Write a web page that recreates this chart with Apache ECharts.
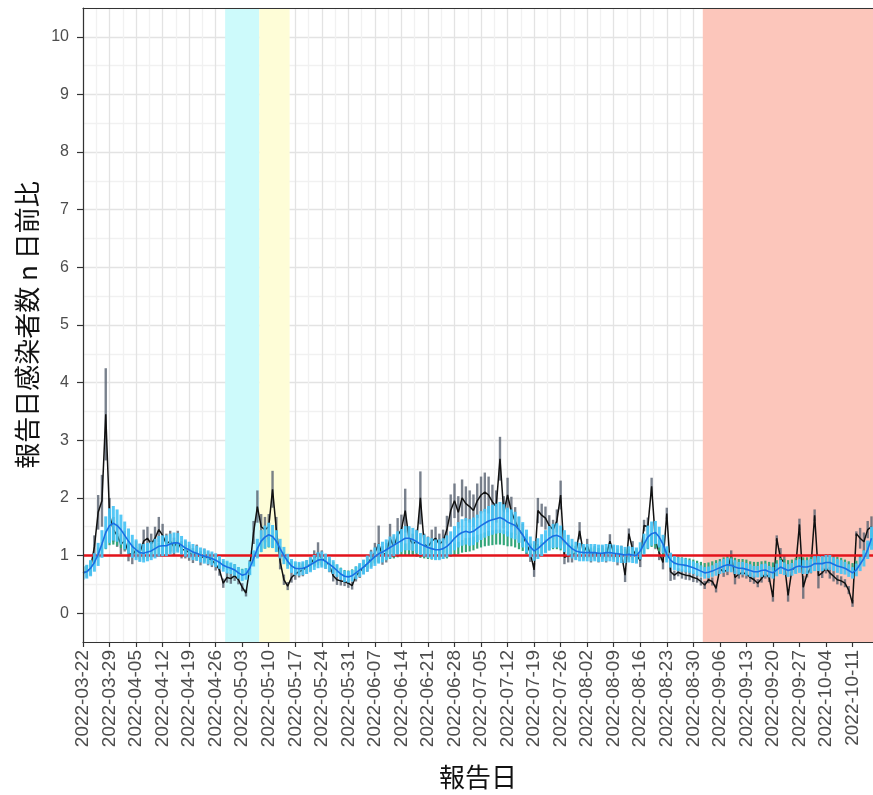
<!DOCTYPE html>
<html>
<head>
<meta charset="utf-8">
<script src="https://cdn.jsdelivr.net/npm/echarts@6/dist/echarts.min.js"></script>
<style>
html, body { margin: 0; padding: 0; background: #fff; }
#board { width: 873px; height: 795px; }
</style>
</head>
<body>
<div id="board"></div>
<script>
// day 0 = 2022-03-22, one value per day up to 2022-10-16
const startDate = '2022-03-22';

// 報告日感染者数 n 日前比 (black line)
const ratio = [
  0.70,0.72,0.78,1.15,1.75,1.95,3.45,
  1.70,1.45,1.35,1.20,1.25,1.05,1.00,
  1.10,1.05,1.25,1.30,1.20,1.30,1.45,
  1.35,1.20,1.25,1.15,1.25,1.10,1.10,
  1.05,1.00,1.05,0.95,1.00,0.95,0.92,
  0.85,0.75,0.52,0.62,0.60,0.65,0.58,
  0.45,0.35,0.80,1.40,1.85,1.50,1.45,
  1.50,2.15,1.45,0.90,0.58,0.47,0.62,
  0.68,0.72,0.75,0.80,0.85,0.95,1.05,
  0.95,0.90,0.83,0.65,0.58,0.56,0.55,
  0.52,0.48,0.65,0.72,0.80,0.85,0.95,
  1.05,1.20,1.00,1.05,1.30,1.15,1.35,
  1.45,1.78,1.30,1.20,1.25,2.00,1.20,
  1.15,1.25,1.30,1.20,1.25,1.45,1.78,
  1.95,1.75,2.00,1.90,1.85,1.78,1.95,
  2.05,2.10,2.05,1.93,1.85,2.68,1.75,
  2.05,1.76,1.60,1.45,1.35,1.20,1.05,
  0.75,1.78,1.70,1.65,1.52,1.45,1.60,
  2.05,0.97,1.00,1.00,1.05,1.43,1.05,
  1.17,1.00,1.05,1.00,1.05,1.00,1.25,
  1.05,0.95,1.05,0.66,1.38,1.10,1.00,
  0.92,1.52,1.50,2.20,1.26,1.05,0.88,
  1.73,0.72,0.66,0.71,0.68,0.66,0.65,
  0.62,0.60,0.55,0.49,0.58,0.55,0.43,
  0.77,0.72,0.75,1.00,0.62,0.68,0.70,
  0.68,0.62,0.58,0.52,0.60,0.68,0.62,
  0.28,1.30,0.95,0.88,0.31,0.75,0.80,
  1.54,0.45,0.68,0.78,1.70,0.65,0.70,
  0.78,0.70,0.64,0.58,0.56,0.52,0.40,
  0.17,1.38,1.30,1.24,1.45,1.50
];
// half width of the grey interval around ratio
const ratioCi = [
  0.10,0.10,0.12,0.20,0.30,0.45,0.80,
  0.30,0.22,0.20,0.18,0.18,0.15,0.15,
  0.15,0.15,0.20,0.20,0.18,0.20,0.22,
  0.20,0.18,0.18,0.16,0.18,0.15,0.15,
  0.14,0.13,0.14,0.12,0.12,0.12,0.12,
  0.11,0.10,0.08,0.09,0.09,0.09,0.08,
  0.07,0.06,0.12,0.20,0.28,0.22,0.22,
  0.22,0.32,0.22,0.14,0.09,0.07,0.09,
  0.10,0.10,0.11,0.12,0.12,0.14,0.18,
  0.14,0.13,0.12,0.10,0.09,0.08,0.08,
  0.08,0.07,0.10,0.11,0.12,0.13,0.15,
  0.17,0.32,0.16,0.17,0.25,0.18,0.30,
  0.26,0.38,0.20,0.18,0.20,0.46,0.18,
  0.18,0.20,0.20,0.18,0.20,0.24,0.28,
  0.30,0.28,0.32,0.30,0.28,0.28,0.30,
  0.32,0.34,0.32,0.30,0.28,0.38,0.28,
  0.30,0.26,0.24,0.22,0.20,0.18,0.16,
  0.12,0.22,0.20,0.20,0.18,0.17,0.20,
  0.25,0.12,0.12,0.12,0.12,0.15,0.12,
  0.12,0.12,0.12,0.12,0.12,0.12,0.12,
  0.12,0.12,0.12,0.12,0.09,0.15,0.12,
  0.12,0.10,0.16,0.15,0.15,0.13,0.12,
  0.10,0.16,0.08,0.07,0.08,0.08,0.08,
  0.08,0.07,0.07,0.07,0.06,0.07,0.07,
  0.06,0.09,0.09,0.09,0.12,0.08,0.08,
  0.08,0.08,0.07,0.07,0.07,0.08,0.08,
  0.08,0.05,0.18,0.12,0.11,0.05,0.10,
  0.10,0.20,0.06,0.09,0.10,0.22,0.09,
  0.09,0.10,0.09,0.08,0.08,0.07,0.07,
  0.06,0.04,0.18,0.16,0.15,0.18,0.20
];
// smoothed ratio (blue line) and half width of its light blue band
const smooth = [
  0.70,0.72,0.78,0.88,1.02,1.20,1.40,
  1.52,1.56,1.52,1.45,1.35,1.25,1.16,
  1.10,1.05,1.04,1.06,1.08,1.12,1.16,
  1.17,1.17,1.20,1.22,1.22,1.18,1.13,
  1.10,1.06,1.04,1.01,0.99,0.97,0.95,
  0.92,0.88,0.83,0.80,0.78,0.75,0.70,
  0.66,0.68,0.78,0.95,1.12,1.25,1.32,
  1.36,1.33,1.25,1.12,1.00,0.90,0.82,
  0.78,0.77,0.78,0.80,0.84,0.88,0.92,
  0.93,0.90,0.85,0.80,0.74,0.68,0.64,
  0.63,0.65,0.70,0.75,0.80,0.86,0.92,
  0.98,1.03,1.06,1.10,1.14,1.18,1.22,
  1.26,1.30,1.30,1.28,1.24,1.20,1.17,
  1.14,1.12,1.10,1.10,1.12,1.16,1.22,
  1.30,1.36,1.40,1.42,1.40,1.42,1.47,
  1.52,1.56,1.60,1.62,1.64,1.66,1.63,
  1.58,1.55,1.52,1.45,1.36,1.25,1.15,
  1.08,1.12,1.18,1.24,1.30,1.34,1.35,
  1.32,1.25,1.18,1.12,1.08,1.06,1.05,
  1.05,1.05,1.05,1.04,1.04,1.05,1.05,
  1.04,1.03,1.02,1.01,1.02,1.01,1.00,
  1.08,1.20,1.32,1.38,1.40,1.32,1.20,
  1.02,0.92,0.87,0.85,0.84,0.83,0.81,
  0.79,0.76,0.73,0.70,0.71,0.73,0.76,
  0.79,0.82,0.84,0.83,0.80,0.78,0.78,
  0.76,0.74,0.72,0.72,0.74,0.75,0.72,
  0.70,0.75,0.80,0.77,0.74,0.76,0.80,
  0.82,0.80,0.80,0.82,0.86,0.86,0.86,
  0.88,0.88,0.85,0.82,0.80,0.78,0.74,
  0.70,0.75,0.85,0.95,1.10,1.30
];
const smoothCi = [
  0.12,0.12,0.14,0.16,0.20,0.24,0.28,
  0.30,0.30,0.28,0.26,0.24,0.22,0.20,
  0.18,0.16,0.16,0.16,0.16,0.17,0.18,
  0.18,0.18,0.18,0.18,0.17,0.16,0.15,
  0.14,0.14,0.13,0.13,0.13,0.12,0.12,
  0.12,0.11,0.11,0.11,0.10,0.10,0.10,
  0.10,0.10,0.12,0.14,0.17,0.19,0.20,
  0.21,0.20,0.19,0.17,0.15,0.13,0.12,
  0.12,0.12,0.12,0.12,0.13,0.13,0.14,
  0.14,0.13,0.13,0.12,0.11,0.10,0.10,
  0.10,0.10,0.11,0.12,0.13,0.14,0.15,
  0.16,0.17,0.18,0.18,0.19,0.19,0.20,
  0.20,0.21,0.21,0.20,0.20,0.19,0.19,
  0.18,0.18,0.18,0.18,0.18,0.19,0.20,
  0.21,0.22,0.23,0.23,0.23,0.24,0.24,
  0.25,0.25,0.26,0.26,0.26,0.27,0.26,
  0.25,0.25,0.24,0.23,0.22,0.20,0.18,
  0.17,0.18,0.19,0.20,0.21,0.21,0.21,
  0.20,0.19,0.18,0.17,0.16,0.16,0.15,
  0.15,0.15,0.15,0.15,0.15,0.15,0.15,
  0.15,0.15,0.15,0.14,0.14,0.14,0.14,
  0.15,0.18,0.20,0.21,0.20,0.18,0.16,
  0.14,0.13,0.12,0.12,0.12,0.12,0.11,
  0.11,0.11,0.10,0.10,0.10,0.10,0.11,
  0.11,0.12,0.12,0.12,0.12,0.11,0.11,
  0.11,0.11,0.10,0.10,0.11,0.11,0.10,
  0.10,0.11,0.12,0.11,0.11,0.11,0.12,
  0.12,0.12,0.12,0.12,0.13,0.13,0.13,
  0.13,0.13,0.12,0.12,0.12,0.11,0.11,
  0.10,0.11,0.12,0.14,0.16,0.20
];
// green estimate and its half width
const green = [
  0.74,0.77,0.84,0.94,1.05,1.13,1.22,
  1.30,1.31,1.28,1.24,1.20,1.15,1.10,
  1.06,1.03,1.02,1.04,1.06,1.09,1.12,
  1.13,1.13,1.15,1.17,1.17,1.14,1.10,
  1.07,1.04,1.02,1.00,0.98,0.96,0.94,
  0.91,0.88,0.84,0.82,0.80,0.78,0.74,
  0.71,0.72,0.80,0.94,1.06,1.16,1.22,
  1.25,1.23,1.17,1.07,0.98,0.90,0.84,
  0.81,0.80,0.81,0.83,0.86,0.89,0.92,
  0.92,0.90,0.86,0.82,0.77,0.72,0.69,
  0.68,0.70,0.74,0.78,0.82,0.86,0.90,
  0.94,0.97,0.99,1.01,1.03,1.05,1.07,
  1.09,1.11,1.11,1.10,1.08,1.06,1.05,
  1.04,1.03,1.03,1.04,1.04,1.05,1.08,
  1.10,1.13,1.16,1.18,1.19,1.21,1.24,
  1.26,1.28,1.30,1.31,1.32,1.32,1.31,
  1.29,1.28,1.26,1.23,1.19,1.14,1.10,
  1.08,1.10,1.13,1.17,1.20,1.22,1.22,
  1.20,1.16,1.12,1.09,1.07,1.06,1.05,
  1.05,1.05,1.05,1.04,1.04,1.05,1.05,
  1.04,1.03,1.02,1.02,1.02,1.01,1.01,
  1.06,1.14,1.22,1.26,1.24,1.17,1.08,
  1.01,0.96,0.92,0.90,0.89,0.88,0.87,
  0.86,0.84,0.82,0.80,0.81,0.83,0.85,
  0.87,0.89,0.91,0.90,0.88,0.86,0.86,
  0.85,0.83,0.82,0.82,0.83,0.84,0.82,
  0.81,0.84,0.88,0.86,0.84,0.85,0.88,
  0.90,0.89,0.89,0.90,0.93,0.93,0.93,
  0.94,0.94,0.92,0.90,0.88,0.86,0.83,
  0.80,0.84,0.92,1.00,1.12,1.28
];
const greenCi = [
  0.06,0.06,0.07,0.08,0.09,0.10,0.11,
  0.12,0.12,0.11,0.11,0.10,0.10,0.09,
  0.09,0.09,0.09,0.09,0.09,0.10,0.10,
  0.10,0.10,0.10,0.10,0.10,0.09,0.09,
  0.09,0.08,0.08,0.08,0.08,0.08,0.08,
  0.08,0.07,0.07,0.07,0.07,0.07,0.06,
  0.06,0.06,0.07,0.08,0.09,0.10,0.10,
  0.11,0.10,0.10,0.09,0.08,0.08,0.07,
  0.07,0.07,0.07,0.07,0.08,0.08,0.08,
  0.08,0.08,0.08,0.07,0.07,0.07,0.06,
  0.06,0.06,0.07,0.07,0.07,0.08,0.08,
  0.08,0.09,0.09,0.09,0.09,0.10,0.10,
  0.10,0.10,0.10,0.10,0.10,0.10,0.10,
  0.10,0.10,0.10,0.10,0.10,0.10,0.10,
  0.11,0.11,0.11,0.12,0.12,0.12,0.12,
  0.12,0.12,0.13,0.13,0.13,0.13,0.13,
  0.13,0.12,0.12,0.12,0.11,0.11,0.10,
  0.10,0.10,0.10,0.11,0.11,0.11,0.11,
  0.11,0.10,0.10,0.10,0.09,0.09,0.09,
  0.09,0.09,0.09,0.09,0.09,0.09,0.09,
  0.09,0.09,0.09,0.09,0.09,0.09,0.09,
  0.09,0.10,0.11,0.11,0.11,0.10,0.10,
  0.09,0.08,0.08,0.08,0.08,0.08,0.08,
  0.07,0.07,0.07,0.07,0.07,0.07,0.07,
  0.07,0.08,0.08,0.08,0.08,0.08,0.08,
  0.08,0.07,0.07,0.07,0.07,0.07,0.07,
  0.07,0.08,0.08,0.08,0.08,0.08,0.08,
  0.08,0.08,0.08,0.08,0.08,0.08,0.08,
  0.08,0.08,0.08,0.08,0.08,0.07,0.07,
  0.07,0.07,0.08,0.09,0.10,0.11
];
// shaded periods (first and last day, inclusive)
const periods = [
  { from: '2022-04-29', to: '2022-05-07', color: '#cdfafb' },
  { from: '2022-05-08', to: '2022-05-15', color: '#fefdd7' },
  { from: '2022-09-02', to: '2022-10-17', color: '#fcc6bb' }
];
const yTicks = [0, 1, 2, 3, 4, 5, 6, 7, 8, 9, 10];

const DAY = 86400000;
const t0 = Date.parse(startDate);
const dayIndex = s => Math.round((Date.parse(s) - t0) / DAY);
const dayLabel = d => new Date(t0 + d * DAY).toISOString().slice(0, 10);

const xMax = 208.4;
const weekTicks = [];
for (let d = 0; d <= xMax; d += 7) weekTicks.push(d);

const rangeData = (mid, ci) => mid.map((v, i) => [i, +(v - ci[i]).toFixed(3), +(v + ci[i]).toFixed(3)]);
const lineData = arr => arr.map((v, i) => [i, v]);

function errBars(color, width) {
  return function (params, api) {
    const a = api.coord([api.value(0), api.value(1)]);
    const b = api.coord([api.value(0), api.value(2)]);
    return {
      type: 'line',
      shape: { x1: a[0], y1: a[1], x2: b[0], y2: b[1] },
      style: { stroke: color, lineWidth: width }
    };
  };
}

const labelFont = { color: '#4d4d4d', fontFamily: 'Liberation Sans, Arial, sans-serif' };
const titleFont = { color: '#111', fontSize: 26, fontFamily: 'Noto Sans CJK JP, sans-serif' };

var myChart = echarts.init(document.getElementById('board'));
myChart.setOption({
  animation: false,
  grid: { left: 83, right: 0, top: 8, bottom: 153, show: false, containLabel: false, outerBoundsMode: 'none' },
  xAxis: [
    { // grid lines only
      type: 'value', min: 0, max: xMax, interval: 3.5, z: 0,
      axisLine: { show: false, onZero: false }, axisTick: { show: false }, axisLabel: { show: false },
      splitLine: { show: true, showMinLine: true, lineStyle: { color: ['#e3e3e3', '#f1f1f1'], width: 1.3 } }
    },
    { // labels, ticks, bottom border
      type: 'value', min: 0, max: xMax, position: 'bottom', z: 10,
      axisLine: { show: true, onZero: false, lineStyle: { color: '#333', width: 1.2 } },
      axisTick: { show: true, length: 5, customValues: weekTicks, lineStyle: { color: '#333', width: 1.2 } },
      axisLabel: Object.assign({
        customValues: weekTicks, rotate: 90, fontSize: 19, margin: 8,
        formatter: v => dayLabel(v)
      }, labelFont),
      splitLine: { show: false },
      name: '報告日', nameLocation: 'middle', nameGap: 122, nameTextStyle: titleFont
    },
    { // top border
      type: 'value', min: 0, max: xMax, position: 'top', z: 10,
      axisLine: { show: true, onZero: false, lineStyle: { color: '#333', width: 1.2 } },
      axisTick: { show: false }, axisLabel: { show: false }, splitLine: { show: false }
    }
  ],
  yAxis: [
    {
      type: 'value', min: -0.5, max: 10.5, interval: 0.5, z: 0,
      axisLine: { show: false, onZero: false }, axisTick: { show: false }, axisLabel: { show: false },
      splitLine: { show: true, showMinLine: true, lineStyle: { color: ['#f1f1f1', '#e3e3e3'], width: 1.3 } }
    },
    {
      type: 'value', min: -0.5, max: 10.5, position: 'left', z: 10,
      axisLine: { show: true, onZero: false, lineStyle: { color: '#333', width: 1.2 } },
      axisTick: { show: true, length: 6, customValues: yTicks, lineStyle: { color: '#333', width: 1.2 } },
      axisLabel: Object.assign({ customValues: yTicks, fontSize: 16, margin: 14 }, labelFont),
      splitLine: { show: false },
      name: '報告日感染者数 n 日前比', nameLocation: 'middle', nameGap: 39, nameRotate: 90,
      nameTextStyle: titleFont
    }
  ],
  series: [
    {
      type: 'line', data: [], z: 1, silent: true,
      markArea: {
        silent: true,
        data: periods.map(p => [
          { xAxis: dayIndex(p.from) - 0.5, itemStyle: { color: p.color, opacity: 1 } },
          { xAxis: Math.min(dayIndex(p.to) + 0.5, xMax) }
        ])
      }
    },
    {
      name: 'ratio range', type: 'custom', z: 2, clip: true,
      renderItem: errBars('rgba(88,98,112,0.8)', 2.4),
      encode: { x: 0, y: [1, 2] },
      data: rangeData(ratio, ratioCi)
    },
    {
      name: 'ratio', type: 'line', z: 3, showSymbol: false, clip: true,
      lineStyle: { color: '#111', width: 1.5 },
      data: lineData(ratio)
    },
    {
      name: 'green range', type: 'custom', z: 4, clip: true,
      renderItem: errBars('#33a67a', 2.2),
      encode: { x: 0, y: [1, 2] },
      data: rangeData(green, greenCi)
    },
    {
      name: 'smooth range', type: 'custom', z: 5, clip: true,
      renderItem: errBars('rgba(70,195,245,0.92)', 3),
      encode: { x: 0, y: [1, 2] },
      data: rangeData(smooth, smoothCi)
    },
    {
      name: 'smooth', type: 'line', z: 6, showSymbol: false, clip: true,
      lineStyle: { color: '#1a6fe3', width: 1.6 },
      data: lineData(smooth)
    },
    {
      type: 'line', data: [], z: 7, silent: true,
      markLine: {
        silent: true, symbol: 'none', label: { show: false },
        lineStyle: { color: '#e3131b', width: 2.6, type: 'solid' },
        data: [{ yAxis: 1 }]
      }
    }
  ]
});
</script>
</body>
</html>
